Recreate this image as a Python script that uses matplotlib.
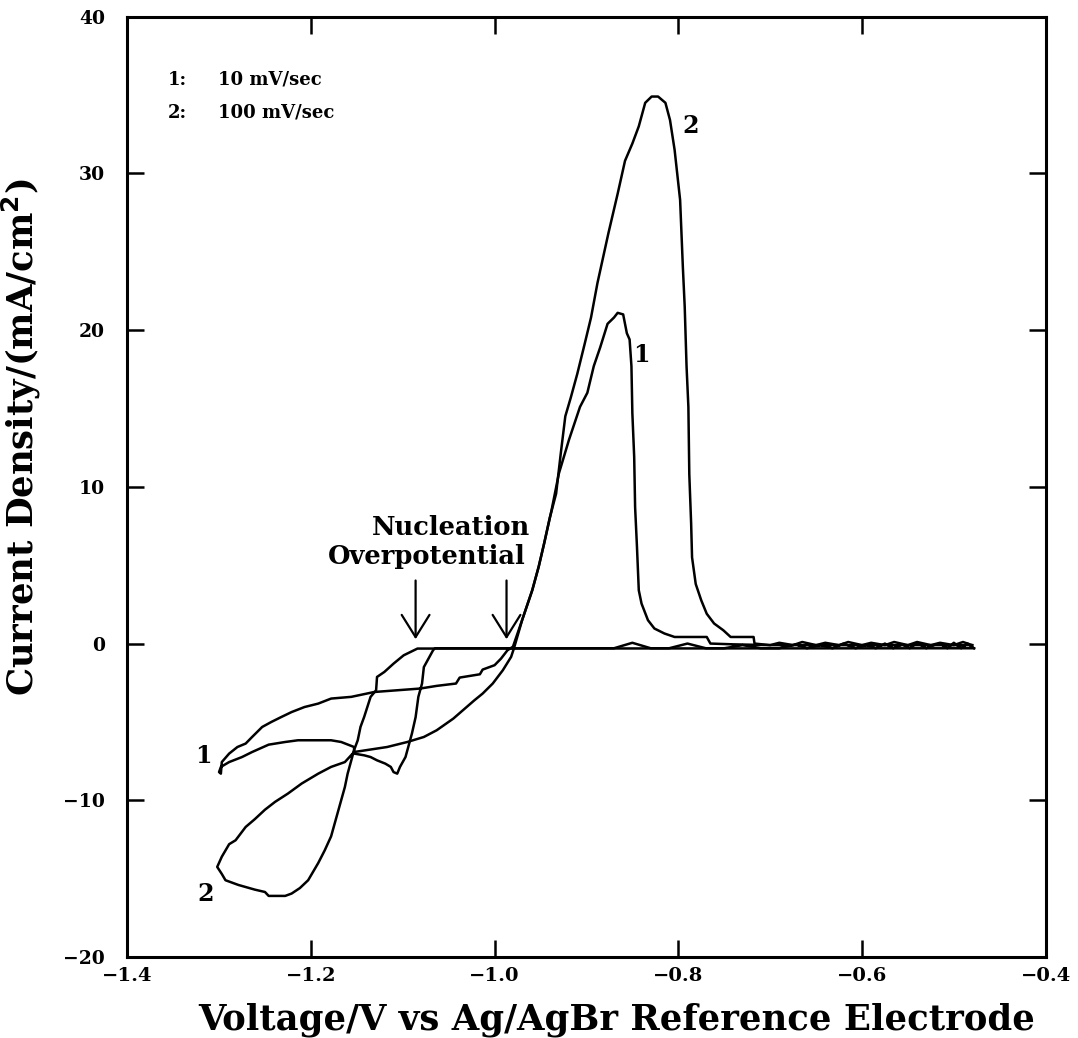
import matplotlib
matplotlib.use("Agg")
import matplotlib.pyplot as plt
import numpy as np

plt.rcParams['font.family'] = ['DejaVu Serif']
plt.rcParams['font.weight'] = 'bold'

# curve 1: 10 mV/sec (forward sweep from -0.48 V, then reverse)
v1 = [-0.478, -0.485, -0.492, -0.50, -0.507, -0.515, -0.522, -0.53, -0.54, -0.548,
      -0.556, -0.566, -0.575, -0.585, -0.595, -0.607, -0.62, -0.632, -0.645, -0.66,
      -0.672, -0.69, -0.71, -0.73, -0.75, -0.77, -0.79, -0.81, -0.83, -0.85, -0.87,
      -1.065,
      -1.067, -1.077, -1.079, -1.083, -1.086, -1.090, -1.094, -1.097, -1.103, -1.106,
      -1.110, -1.113, -1.119, -1.128, -1.135, -1.142, -1.153, -1.153, -1.167, -1.178,
      -1.214, -1.228, -1.246, -1.264, -1.275, -1.289, -1.298, -1.300,
      -1.298, -1.297, -1.289, -1.280, -1.271, -1.264, -1.253, -1.243, -1.232, -1.221,
      -1.207, -1.192, -1.178, -1.156, -1.131, -1.081, -1.063, -1.042, -1.038, -1.016,
      -1.013, -1.000, -0.993, -0.986, -0.980,
      -0.970, -0.959, -0.952, -0.946, -0.938, -0.930, -0.919, -0.907, -0.899, -0.892,
      -0.885, -0.877, -0.870, -0.866, -0.860, -0.856, -0.853, -0.851, -0.850, -0.848,
      -0.847, -0.845, -0.843, -0.840, -0.833, -0.826, -0.815, -0.804, -0.769, -0.765,
      -0.74, -0.70, -0.60, -0.48]
j1 = [-0.3, 0.0, -0.3, 0.05, -0.3, 0.0, -0.1, -0.3, 0.05, -0.3,
      -0.05, -0.3, 0.0, -0.3, -0.1, -0.3, 0.0, -0.3, -0.1, -0.3,
      -0.05, -0.3, -0.3, -0.1, -0.3, -0.3, 0.0, -0.3, -0.3, 0.05, -0.3,
      -0.3,
      -0.43, -1.5, -2.55, -3.4, -4.7, -5.74, -6.6, -7.24, -7.87, -8.3,
      -8.2, -7.87, -7.66, -7.45, -7.24, -7.13, -7.02, -6.6, -6.28, -6.17,
      -6.17, -6.28, -6.45, -6.92, -7.24, -7.56, -7.87, -8.2,
      -8.3, -7.56, -7.02, -6.6, -6.38, -5.96, -5.32, -5.0, -4.68, -4.37,
      -4.05, -3.83, -3.51, -3.4, -3.09, -2.87, -2.7, -2.55, -2.17, -1.96,
      -1.66, -1.38, -0.96, -0.43, -0.2,
      1.5, 3.4, 4.9, 6.4, 8.5, 10.85, 13.0, 15.1, 16.0, 17.7,
      18.9, 20.4, 20.8, 21.1, 21.0, 19.8, 19.4, 17.7, 14.7, 11.9,
      8.7, 6.2, 3.4, 2.55, 1.49, 0.96, 0.64, 0.42, 0.42, 0.0,
      -0.05, -0.1, -0.1, -0.1]

# curve 2: 100 mV/sec
v2 = [-0.478, -1.084,
      -1.099, -1.110, -1.120, -1.128, -1.129, -1.135, -1.142, -1.146, -1.149, -1.153,
      -1.156, -1.160, -1.163, -1.178, -1.185, -1.192, -1.203, -1.212, -1.221, -1.228,
      -1.246, -1.250, -1.261, -1.279, -1.293, -1.297, -1.302,
      -1.297, -1.293, -1.289, -1.282, -1.271, -1.261, -1.250, -1.239, -1.225, -1.210,
      -1.192, -1.178, -1.163, -1.153, -1.117, -1.095, -1.077, -1.063, -1.045, -1.022,
      -1.013, -1.002, -0.991, -0.982, -0.979,
      -0.970, -0.959, -0.952, -0.946, -0.940, -0.933, -0.928, -0.923, -0.917, -0.910,
      -0.902, -0.895, -0.888, -0.876, -0.866, -0.858, -0.850, -0.843, -0.836, -0.829,
      -0.822, -0.814, -0.809, -0.804, -0.798, -0.795, -0.793, -0.791, -0.789, -0.788,
      -0.786, -0.785, -0.781, -0.775, -0.769, -0.761, -0.751, -0.743, -0.718, -0.717,
      -0.70, -0.69, -0.675, -0.665, -0.65, -0.64, -0.625, -0.615, -0.60, -0.59,
      -0.575, -0.565, -0.55, -0.54, -0.525, -0.515, -0.50, -0.49, -0.48]
j2 = [-0.3, -0.32,
      -0.75, -1.28, -1.81, -2.13, -2.98, -3.4, -4.68, -5.32, -6.17, -6.8,
      -7.45, -8.3, -9.15, -12.3, -13.2, -14.0, -15.1, -15.6, -15.95, -16.1,
      -16.1, -15.85, -15.7, -15.4, -15.1, -14.7, -14.25,
      -13.6, -13.2, -12.8, -12.55, -11.7, -11.2, -10.6, -10.1, -9.57, -8.93,
      -8.3, -7.87, -7.56, -6.92, -6.6, -6.28, -5.96, -5.53, -4.79, -3.62,
      -3.19, -2.55, -1.70, -0.85, -0.32,
      1.5, 3.4, 4.9, 6.4, 8.0, 9.57, 12.1, 14.5, 15.7, 17.2,
      19.1, 20.8, 23.0, 26.2, 28.7, 30.8, 31.9, 33.0, 34.5, 34.9,
      34.9, 34.5, 33.4, 31.5, 28.3, 24.0, 21.5, 17.7, 15.1, 10.8,
      7.66, 5.5, 3.8, 2.76, 1.9, 1.28, 0.85, 0.42, 0.42, 0.0,
      -0.1, 0.05, -0.1, 0.1, -0.1, 0.05, -0.1, 0.1, -0.1, 0.05,
      -0.1, 0.1, -0.1, 0.1, -0.1, 0.05, -0.1, 0.1, -0.1]

xticks = [-1.4, -1.2, -1.0, -0.8, -0.6, -0.4]
yticks = [-20, -10, 0, 10, 20, 30, 40]
arrow_x = [-1.086, -0.987]

fig = plt.figure(figsize=(10.78, 10.38), dpi=100)
ax = fig.add_axes([0.118, 0.078, 0.852, 0.906])

ax.plot(v1, j1, color='black', lw=1.8)
ax.plot(v2, j2, color='black', lw=1.8)

ax.set_xlim(-1.4, -0.4)
ax.set_ylim(-20, 40)
ax.set_xticks(xticks)
ax.set_yticks(yticks)
ax.set_xticklabels(['\u2212%.1f' % abs(t) for t in xticks], fontsize=14, fontweight='bold')
ax.set_yticklabels([('\u2212%d' % abs(t)) if t < 0 else '%d' % t for t in yticks],
                   fontsize=13.5, fontweight='bold')
ax.tick_params(direction='in', length=12, width=1.8, top=True, right=True)
ax.tick_params(axis='x', pad=7)
ax.tick_params(axis='y', pad=16)
for s in ax.spines.values():
    s.set_linewidth(2.2)

ax.set_xlabel('Voltage/V vs Ag/AgBr Reference Electrode', fontsize=25.5, fontweight='bold')
ax.xaxis.set_label_coords(0.533, -0.048)
ax.set_ylabel('Current Density/(mA/cm$^{\\mathbf{2}}$)', fontsize=25.5, fontweight='bold')
ax.yaxis.set_label_coords(-0.092, 0.553)

# legend text
ax.text(0.0446, 0.933, '1:', transform=ax.transAxes, fontsize=13, va='center')
ax.text(0.099, 0.933, '10 mV/sec', transform=ax.transAxes, fontsize=13, va='center')
ax.text(0.0446, 0.898, '2:', transform=ax.transAxes, fontsize=13, va='center')
ax.text(0.099, 0.898, '100 mV/sec', transform=ax.transAxes, fontsize=13, va='center')

# curve labels
ax.text(-0.787, 33.0, '2', fontsize=17, ha='center', va='center')
ax.text(-0.840, 18.4, '1', fontsize=17, ha='center', va='center')
ax.text(-1.317, -7.2, '1', fontsize=17, ha='center', va='center')
ax.text(-1.315, -16.0, '2', fontsize=17, ha='center', va='center')

ax.text(-1.047, 7.4, 'Nucleation', fontsize=18.5, ha='center', va='center')
ax.text(-1.074, 5.57, 'Overpotential', fontsize=18.5, ha='center', va='center')
for xa in arrow_x:
    ax.annotate('', xy=(xa, 0.1), xytext=(xa, 4.2),
                arrowprops=dict(arrowstyle='->,head_length=0.8,head_width=0.5',
                                color='black', lw=1.6, mutation_scale=20))

fig.savefig('out.png', dpi=100)
